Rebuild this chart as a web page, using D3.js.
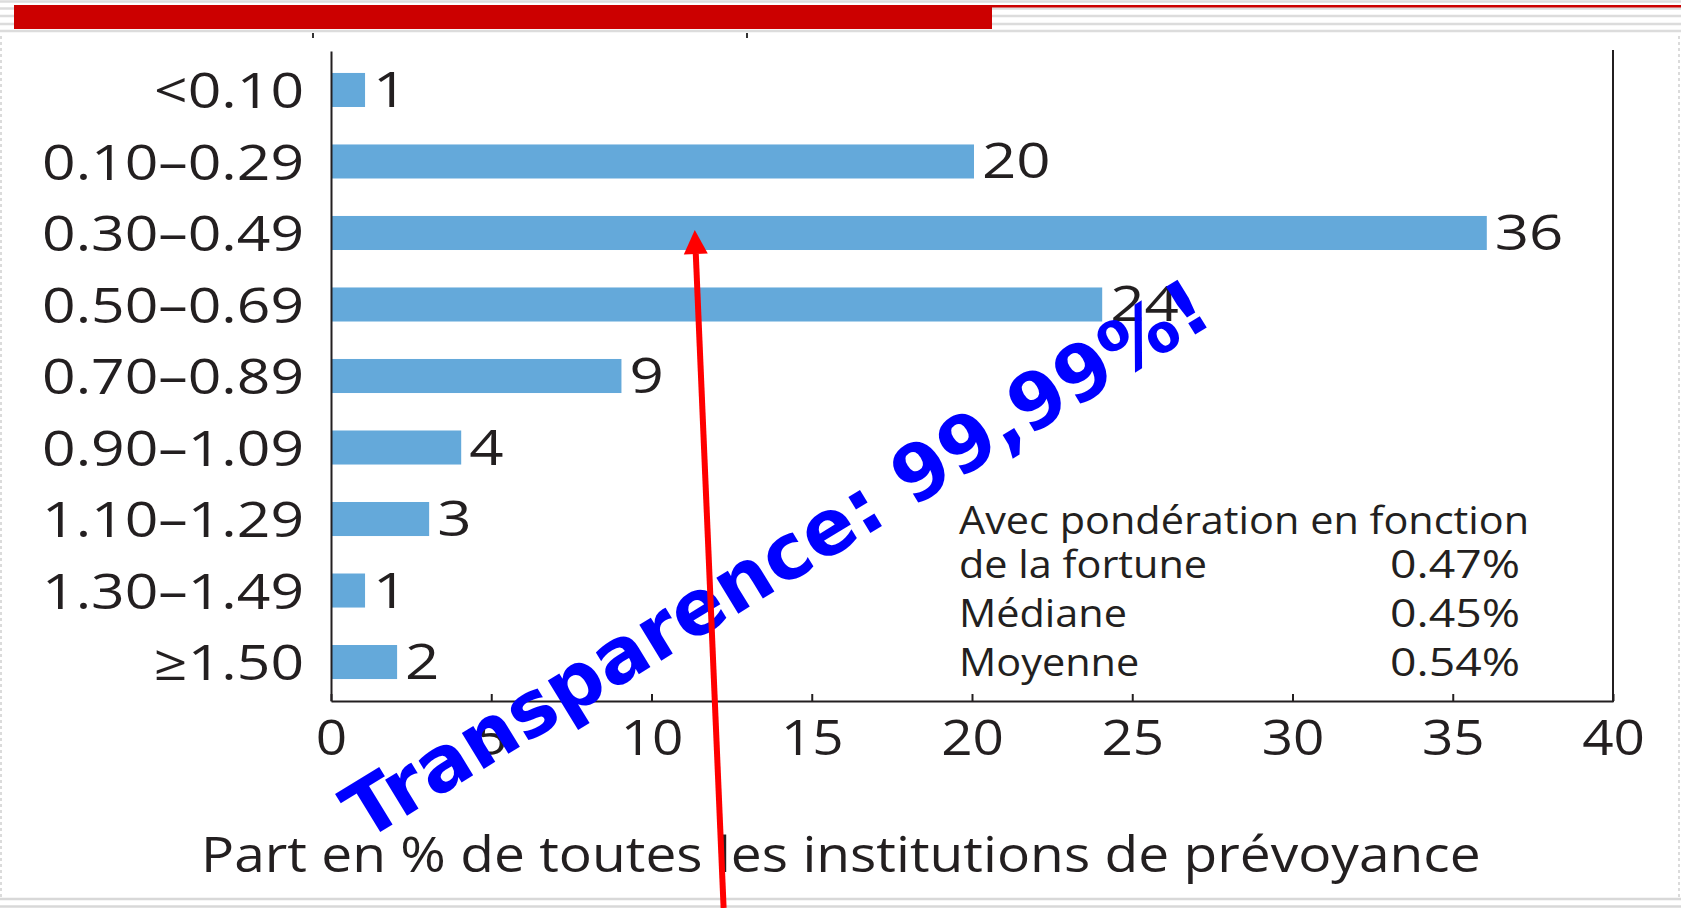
<!DOCTYPE html>
<html>
<head>
<meta charset="utf-8">
<script src="https://cdn.jsdelivr.net/npm/d3@7"></script>
<style>
    body { margin: 0; background: #fff; }
    svg { display: block; }
    .lbl { font-family: "Open Sans", sans-serif; fill: #231f20; }
</style>
</head>
<body>
<svg id="chart" width="1681" height="908"></svg>
<script>
// data
const categories = ["<0.10", "0.10–0.29", "0.30–0.49", "0.50–0.69", "0.70–0.89",
                    "0.90–1.09", "1.10–1.29", "1.30–1.49", "≥1.50"];
const shares = [1, 20, 36, 24, 9, 4, 3, 1, 2];
const xTicks = [0, 5, 10, 15, 20, 25, 30, 35, 40];
const statHeading = "Avec pondération en fonction";
const statNames = ["de la fortune", "Médiane", "Moyenne"];
const statValues = ["0.47%", "0.45%", "0.54%"];
const axisTitle = "Part en % de toutes les institutions de prévoyance";
const stamp = "Transparence: 99,99%!";

const W = 1681, H = 908;
const svg = d3.select("#chart");
const BAR = "#64a9da";
const INK = "#231f20";

const x = d3.scaleLinear().domain([0, 40]).range([331, 1613]);
const y = d3.scaleBand()
    .domain(categories)
    .range([51, 701])
    .paddingInner(0.524)
    .paddingOuter(0.307);

// page decoration: grey rules, red header bar, dotted side borders
[1.5, 8.5, 16, 24, 31].forEach(function (yy) {
    svg.append("line")
        .attr("x1", 0).attr("x2", W).attr("y1", yy).attr("y2", yy)
        .attr("stroke", "#dcdcdc").attr("stroke-width", 2.5);
});
svg.append("rect")
    .attr("x", 14).attr("y", 5).attr("width", 978).attr("height", 24)
    .attr("fill", "#cc0000");
svg.append("rect")
    .attr("x", 992).attr("y", 5).attr("width", W - 992).attr("height", 2.5)
    .attr("fill", "#cc0000");
[899, 906.5].forEach(function (yy) {
    svg.append("line")
        .attr("x1", 0).attr("x2", W).attr("y1", yy).attr("y2", yy)
        .attr("stroke", "#d8d8d8").attr("stroke-width", 2.5);
});
[1, 1679].forEach(function (xx) {
    svg.append("line")
        .attr("x1", xx).attr("x2", xx).attr("y1", 36).attr("y2", 897)
        .attr("stroke", "#cfcfcf").attr("stroke-width", 1.5)
        .attr("stroke-dasharray", "3,3");
});
// leftover tick marks of the clipped chart above
[313, 747].forEach(function (xx) {
    svg.append("line")
        .attr("x1", xx).attr("x2", xx).attr("y1", 33).attr("y2", 38)
        .attr("stroke", "#333").attr("stroke-width", 2);
});

// bars
svg.append("g")
    .selectAll("rect")
    .data(shares)
    .enter()
    .append("rect")
    .attr("x", x(0) + 1)
    .attr("y", (d, i) => y(categories[i]))
    .attr("width", d => x(d) - x(0) + 1)
    .attr("height", y.bandwidth())
    .attr("fill", BAR);

// value labels
svg.append("g")
    .selectAll("text")
    .data(shares)
    .enter()
    .append("text")
    .attr("class", "lbl")
    .attr("transform", function (d, i) {
        const cy = y(categories[i]) + y.bandwidth() / 2;
        return `translate(${x(d) + 10},${cy + 17}) scale(1.2,1)`;
    })
    .style("font-size", "50px")
    .text(d => d);

// y axis (category labels)
const yAxis = svg.append("g")
    .attr("transform", `translate(${x(0)},0)`)
    .call(d3.axisLeft(y).tickSize(0).tickPadding(22.5));
yAxis.select(".domain").attr("stroke", INK).attr("stroke-width", 2);
yAxis.selectAll("text")
    .attr("class", "lbl")
    .attr("dy", "0.37em")
    .attr("transform", "scale(1.2,1)")
    .style("font-size", "49px");

// x axis, ticks pointing inward
const xAxis = svg.append("g")
    .attr("transform", `translate(0,${y.range()[1]})`)
    .call(d3.axisBottom(x)
        .tickValues(xTicks)
        .tickSizeInner(-7)
        .tickSizeOuter(0)
        .tickPadding(19));
xAxis.select(".domain").attr("stroke", INK).attr("stroke-width", 2);
xAxis.selectAll("line").attr("stroke", INK).attr("stroke-width", 2);
xAxis.selectAll("text")
    .attr("class", "lbl")
    .attr("transform", "scale(1.12,1)")
    .style("font-size", "49px");

// right frame line
svg.append("line")
    .attr("x1", x(40)).attr("x2", x(40))
    .attr("y1", 50).attr("y2", y.range()[1] + 1)
    .attr("stroke", INK).attr("stroke-width", 2);

// axis title
svg.append("text")
    .attr("class", "lbl")
    .attr("transform", "translate(201,872) scale(1.125,1)")
    .style("font-size", "49px")
    .text(axisTitle);

// statistics box
const statLeft = 959, statRight = 1520;
const statBase = [534, 578, 627, 676];
svg.append("text")
    .attr("class", "lbl")
    .attr("transform", `translate(${statLeft},${statBase[0]}) scale(1.09,1)`)
    .style("font-size", "38px")
    .text(statHeading);
statNames.forEach(function (name, i) {
    svg.append("text")
        .attr("class", "lbl")
        .attr("transform", `translate(${statLeft},${statBase[i + 1]}) scale(1.09,1)`)
        .style("font-size", "38px")
        .text(name);
    svg.append("text")
        .attr("class", "lbl")
        .attr("text-anchor", "end")
        .attr("transform", `translate(${statRight},${statBase[i + 1]}) scale(1.22,1)`)
        .style("font-size", "38px")
        .text(statValues[i]);
});

// blue stamp across the plot
svg.append("text")
    .attr("transform", "translate(364,842) rotate(-31.4)")
    .style("font-family", "'DejaVu Sans', sans-serif")
    .style("font-weight", "bold")
    .style("font-size", "77px")
    .attr("fill", "#0000ff")
    .text(stamp);

// red arrow pointing at the 0.30–0.49 bar
const tipX = x(11.35);
const tipY = y("0.30–0.49") + y.bandwidth() / 2 - 3;
const tailX = x(12.25), tailY = H;
const ang = Math.atan2(tipY - tailY, tipX - tailX);
const headLen = 24, headHalf = 12;
const bx = tipX - headLen * Math.cos(ang), by = tipY - headLen * Math.sin(ang);
svg.append("line")
    .attr("x1", tailX).attr("y1", tailY).attr("x2", bx).attr("y2", by)
    .attr("stroke", "#ff0000").attr("stroke-width", 6);
svg.append("path")
    .attr("d", d3.line()([
        [tipX, tipY],
        [bx + headHalf * Math.sin(ang), by - headHalf * Math.cos(ang)],
        [bx - headHalf * Math.sin(ang), by + headHalf * Math.cos(ang)]
    ]) + "Z")
    .attr("fill", "#ff0000");
</script>
</body>
</html>
